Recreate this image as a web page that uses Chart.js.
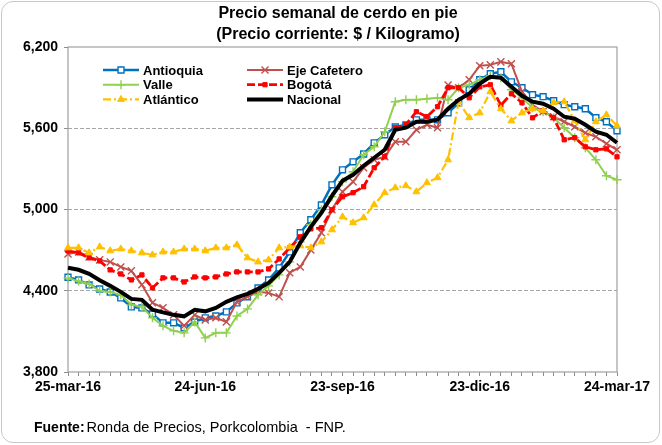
<!DOCTYPE html>
<html><head><meta charset="utf-8">
<script src="https://cdn.jsdelivr.net/npm/chart.js@4.4.1/dist/chart.umd.min.js"></script>
<style>
html,body{margin:0;padding:0;background:#fff;}
#wrap{position:relative;width:662px;height:445px;}
#frame{position:absolute;left:1px;top:1px;width:657px;height:440px;border:1px solid #c8c8c8;border-radius:12px;pointer-events:none}
canvas{position:absolute;left:0;top:0}
</style></head>
<body><div id="wrap"><canvas id="c" width="662" height="445"></canvas><div id="frame"></div></div>
<script>
// Semanas: 25-mar-16 ... 24-mar-17 (53 semanas)
const MESES = ['ene','feb','mar','abr','may','jun','jul','ago','sep','oct','nov','dic'];
const semanas = [];
for (let i = 0; i < 53; i++) {
  const d = new Date(Date.UTC(2016, 2, 25 + i * 7));
  semanas.push(d.getUTCDate() + '-' + MESES[d.getUTCMonth()] + '-' + String(d.getUTCFullYear()).slice(2));
}

const yTicks = [3800, 4400, 5000, 5600, 6200];

const antioquia = [4500,4480,4443,4413,4391,4347,4281,4273,4229,4163,4163,4126,4170,4200,4214,4244,4310,4355,4421,4480,4569,4687,4828,4924,5034,5182,5293,5352,5410,5492,5552,5610,5625,5662,5662,5662,5714,5788,5884,5958,6003,6017,5943,5899,5848,5833,5803,5774,5759,5744,5678,5648,5581];
const ejeCafetero = [4672,4687,4650,4628,4613,4576,4547,4444,4311,4274,4222,4141,4222,4185,4200,4170,4318,4355,4392,4384,4355,4533,4576,4702,4828,4998,5131,5205,5308,5367,5389,5500,5500,5589,5626,5604,5920,5898,5958,6061,6068,6090,6076,5870,5773,5722,5685,5648,5611,5566,5537,5486,5441];
const valle = [4493,4471,4450,4398,4391,4370,4296,4281,4200,4141,4104,4089,4170,4052,4089,4089,4214,4266,4370,4436,4517,4613,4761,4887,4998,5094,5205,5279,5404,5463,5574,5796,5810,5810,5818,5825,5810,5899,5920,5958,5987,5973,5884,5825,5751,5722,5678,5604,5530,5456,5367,5249,5220];
const bogota = [4695,4680,4643,4620,4554,4524,4480,4517,4421,4495,4495,4465,4502,4495,4502,4524,4539,4539,4539,4561,4635,4717,4798,4857,4865,4998,5094,5124,5168,5308,5389,5604,5626,5722,5685,5759,5899,5899,5825,5906,5921,5770,5855,5788,5677,5729,5677,5515,5530,5463,5441,5448,5389];
const atlantico = [4717,4717,4680,4724,4695,4709,4695,4680,4665,4687,4687,4709,4709,4695,4717,4717,4739,4643,4613,4628,4717,4724,4732,4717,4761,4850,4946,4902,4939,5035,5124,5161,5176,5131,5198,5235,5367,5796,5678,5714,5870,5744,5655,5714,5744,5729,5788,5796,5655,5515,5648,5699,5618];
const nacional = [4570,4555,4525,4477,4436,4392,4340,4333,4260,4240,4222,4211,4259,4248,4273,4318,4351,4377,4414,4458,4532,4613,4754,4872,4975,5101,5212,5256,5323,5382,5441,5589,5604,5648,5648,5663,5744,5810,5855,5929,5980,5973,5907,5840,5796,5781,5744,5685,5670,5626,5574,5552,5493];

const SANS = "'Liberation Sans', Arial, sans-serif";

const series = [
  { label: 'Antioquia', data: antioquia, color: '#0070C0', width: 2.5, dash: [], style: 'rect', r: 4.2, fill: '#fff', bw: 1.4, order: 5, col: 0, row: 0 },
  { label: 'Eje Cafetero', data: ejeCafetero, color: '#C0504D', width: 2, dash: [], style: 'crossRot', r: 5, fill: '#C0504D', bw: 1.4, order: 4, col: 1, row: 0 },
  { label: 'Valle', data: valle, color: '#92D050', width: 2, dash: [], style: 'cross', r: 4.5, fill: '#92D050', bw: 1.4, order: 3, col: 0, row: 1 },
  { label: 'Bogotá', data: bogota, color: '#FF0000', width: 2.8, dash: [8, 3], style: 'rect', r: 3, fill: '#FF0000', bw: 1, order: 2, col: 1, row: 1 },
  { label: 'Atlántico', data: atlantico, color: '#FFC000', width: 2.2, dash: [8, 3, 2, 3], style: 'triangle', r: 4, fill: '#FFC000', bw: 1, order: 1, col: 0, row: 2 },
  { label: 'Nacional', data: nacional, color: '#000000', width: 4, dash: [], style: 'circle', r: 0, fill: '#000', bw: 0, order: 0, col: 1, row: 2 },
];

// Título, leyenda, marco del área y fuente
const decor = {
  id: 'decor',
  beforeDatasetsDraw(chart) {
    const { ctx, chartArea: a } = chart;
    ctx.save();
    ctx.strokeStyle = '#a0a0a0';
    ctx.lineWidth = 1.2;
    ctx.strokeRect(a.left, a.top, a.right - a.left, a.bottom - a.top);
    ctx.restore();
  },
  afterDraw(chart) {
    const { ctx, chartArea: a } = chart;
    ctx.save();
    ctx.fillStyle = '#000';
    ctx.textAlign = 'center';
    ctx.textBaseline = 'middle';
    ctx.font = 'bold 16px ' + SANS;
    ctx.fillText('Precio semanal de cerdo en pie', 338, 14);
    ctx.fillText('(Precio corriente: $ / Kilogramo)', 338, 35);

    // leyenda en dos columnas
    ctx.textAlign = 'left';
    ctx.font = 'bold 13px ' + SANS;
    series.forEach((s) => {
      const x0 = a.left + (s.col ? 179 : 35);
      const y = a.top + 23 + s.row * 14.7;
      ctx.strokeStyle = s.color;
      ctx.lineWidth = s.width;
      ctx.setLineDash(s.dash);
      ctx.beginPath(); ctx.moveTo(x0, y); ctx.lineTo(x0 + 36, y); ctx.stroke();
      ctx.setLineDash([]);
      if (s.r) {
        ctx.fillStyle = s.fill;
        ctx.lineWidth = s.bw;
        Chart.helpers.drawPoint(ctx, { pointStyle: s.style, radius: s.r, borderWidth: s.bw, rotation: 0 }, x0 + 18, y);
      }
      ctx.fillStyle = '#000';
      ctx.fillText(s.label, x0 + 40, y + 1);
    });

    // fuente
    ctx.font = 'bold 14px ' + SANS;
    ctx.fillText('Fuente:', 34, 428);
    const w = ctx.measureText('Fuente:').width;
    ctx.font = '14.5px ' + SANS;
    ctx.fillText('Ronda de Precios, Porkcolombia  - FNP.', 34 + w + 2, 428);
    ctx.restore();
  }
};

new Chart(document.getElementById('c'), {
  type: 'line',
  data: {
    labels: semanas,
    datasets: series.map((s) => ({
      label: s.label, data: s.data, order: s.order,
      borderColor: s.color, borderWidth: s.width, borderDash: s.dash, tension: 0,
      pointStyle: s.style, pointRadius: s.r, pointHoverRadius: s.r,
      pointBackgroundColor: s.fill, pointBorderColor: s.color, pointBorderWidth: s.bw,
      fill: false,
    })),
  },
  options: {
    responsive: false, animation: false, devicePixelRatio: 1,
    layout: { padding: { top: 47, right: 45, left: 0, bottom: 0 } },
    plugins: { legend: { display: false }, tooltip: { enabled: false }, title: { display: false } },
    scales: {
      x: {
        afterFit: (sc) => { sc.height = 73; },
        grid: { drawOnChartArea: false, drawTicks: true, tickLength: 4, tickColor: '#8c8c8c' },
        border: { display: false },
        ticks: {
          autoSkip: false, maxRotation: 0, padding: 3, color: '#000',
          font: { family: SANS, size: 14, weight: 'bold' },
          callback: function (v, i) { return i % 13 === 0 ? this.getLabelForValue(v) : ''; },
        },
      },
      y: {
        min: 3800, max: 6200,
        afterFit: (sc) => { sc.width = 68; },
        afterBuildTicks: (sc) => { sc.ticks = yTicks.map((v) => ({ value: v })); },
        grid: {
          color: (c) => (c.tick && (c.tick.value === 3800 || c.tick.value === 6200) ? 'rgba(0,0,0,0)' : '#a6a6a6'),
          tickColor: '#8c8c8c', tickLength: 4, lineWidth: 1,
        },
        border: { display: false, dash: [4, 2] },
        ticks: {
          padding: 6, color: '#000',
          font: { family: SANS, size: 14, weight: 'bold' },
          callback: (v) => v.toLocaleString('en-US'),
        },
      },
    },
  },
  plugins: [decor],
});
</script>
</body></html>
